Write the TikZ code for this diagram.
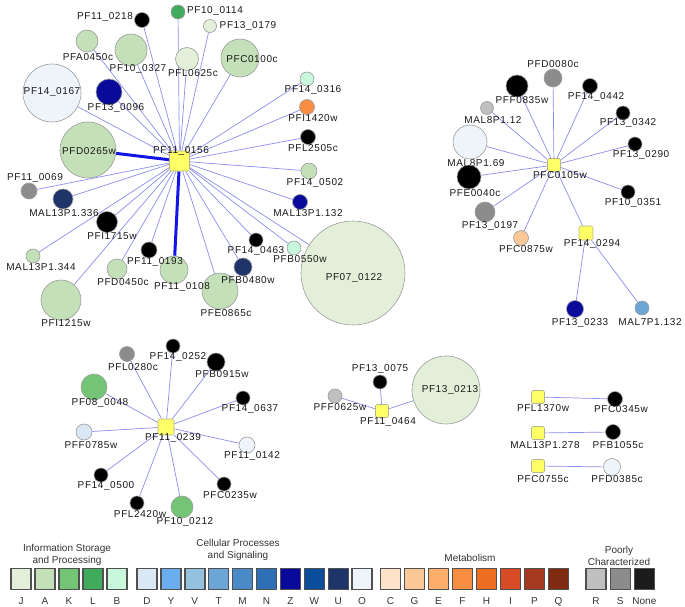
\documentclass[tikz,border=0pt]{standalone}
\usepackage{fontspec}
\setmainfont{Liberation Sans}
\newfontfamily\lblfont{Liberation Sans}[LetterSpace=6]
\usepackage{tikz}
\usetikzlibrary{positioning, backgrounds}
\definecolor{edgeCol}{HTML}{8C8CEE}
\definecolor{strongEdge}{HTML}{1414E6}
\definecolor{geneRim}{HTML}{9C9C9C}
\definecolor{hubFill}{HTML}{FFFF66}
\definecolor{hubRim}{HTML}{B4B48C}
\definecolor{legRim}{HTML}{505050}
\definecolor{cJ}{HTML}{E3EFD9}
\definecolor{cA}{HTML}{C3E0B8}
\definecolor{cK}{HTML}{74C476}
\definecolor{cL}{HTML}{41AB5D}
\definecolor{cB}{HTML}{C9F7DC}
\definecolor{cD}{HTML}{DAE8F5}
\definecolor{cY}{HTML}{6BAEF0}
\definecolor{cV}{HTML}{94C1DE}
\definecolor{cT}{HTML}{6BA6D6}
\definecolor{cM}{HTML}{4A8AC6}
\definecolor{cN}{HTML}{2F6FB6}
\definecolor{cZ}{HTML}{0A0A9A}
\definecolor{cW}{HTML}{0B4F9C}
\definecolor{cU}{HTML}{1F3468}
\definecolor{cO}{HTML}{EFF4FB}
\definecolor{cC}{HTML}{FDE3CA}
\definecolor{cG}{HTML}{FCC898}
\definecolor{cE}{HTML}{FDAE6B}
\definecolor{cF}{HTML}{F98E42}
\definecolor{cH}{HTML}{EE6F22}
\definecolor{cI}{HTML}{D84B27}
\definecolor{cP}{HTML}{A53A21}
\definecolor{cQ}{HTML}{7F2B12}
\definecolor{cR}{HTML}{C0C0C0}
\definecolor{cS}{HTML}{8C8C8C}
\definecolor{cNone}{HTML}{1C1C1C}

\begin{document}
\begin{tikzpicture}[
  x=1pt, y=-1pt,
  gene/.style={circle, draw=geneRim, line width=0.6pt, inner sep=0pt},
  hub/.style={rectangle, rounded corners=1.5pt, draw=hubRim, fill=hubFill,
              line width=0.6pt, inner sep=0pt},
  lbl/.style={font=\lblfont\fontsize{10}{12}\selectfont, text=black!90, inner sep=0pt},
  e/.style={draw=edgeCol, line width=0.7pt},
  strong/.style={draw=strongEdge, line width=3pt},
  legbox/.style={draw=legRim, line width=1.4pt, minimum width=20pt,
                 minimum height=21pt, inner sep=0pt},
  legtxt/.style={font=\fontsize{10}{12}\selectfont, text=black!80,
                 text height=7.2pt, text depth=0pt, inner sep=0pt},
  head/.style={font=\fontsize{10}{12}\selectfont, text=black!80, align=center}
]
\useasboundingbox (0,0) rectangle (685,607);

\foreach \nm/\x/\y/\sz/\col/\txt/\lx/\ly in {
  pf070122/353/273/104/cJ/{PF07\_0122}/354/278,
  pf140167/52/93/58/cO/{PF14\_0167}/52/92,
  pfd0265w/88/150/56/cA/{PFD0265w}/89/151,
  pfi1215w/61/300/40/cA/{PFI1215w}/66/323,
  pfc0100c/240/58/38/cA/{PFC0100c}/252/59,
  pfe0865c/220/291/36/cA/{PFE0865c}/226/313,
  pf100327/131/50/32/cA/{PF10\_0327}/138/69,
  pf110108/174/270/28/cA/{PF11\_0108}/182/287,
  pf130096/109/92/26/cZ/{PF13\_0096}/116/108,
  pfl0625c/187/59/23/cJ/{PFL0625c}/193/73,
  pfa0450c/87/41/22/cA/{PFA0450c}/88/57,
  mal13p1336/63/199/20/cU/{MAL13P1.336}/64/213,
  pfi1715w/107/222/21/black/{PFI1715w}/112/236,
  pfd0450c/117/269/20/cA/{PFD0450c}/123/282,
  pfb0480w/243/267/18/cU/{PFB0480w}/248/280,
  pf110218/142/20/15/black/{PF11\_0218}/105/17,
  pf100114/178/12/14/cL/{PF10\_0114}/215/11,
  pf130179/210/26/13/cJ/{PF13\_0179}/248/26,
  pf110069/29/191/16/cS/{PF11\_0069}/35/178,
  mal13p1344/33/256/14/cA/{MAL13P1.344}/41/267,
  pf110193/149/250/16/black/{PF11\_0193}/155/262,
  pf140463/256/240/14/black/{PF14\_0463}/256/251,
  pfb0550w/294/248/14/cB/{PFB0550w}/300/259,
  mal13p1132/300/202/15/cZ/{MAL13P1.132}/308/213,
  pf140502/309/171/16/cA/{PF14\_0502}/315/183,
  pfl2505c/308/137/15/black/{PFL2505c}/313/148,
  pfi1420w/307/107/15/cF/{PFI1420w}/313/118,
  pf140316/307/79/14/cB/{PF14\_0316}/313/90,
  mal8p169/470/142/34/cO/{MAL8P1.69}/476/163,
  pfe0040c/469/177/24/black/{PFE0040c}/475/193,
  pff0835w/517/86/22/black/{PFF0835w}/522/100,
  pf130197/485/212/20/cS/{PF13\_0197}/490/226,
  pfd0080c/553/78/18/cS/{PFD0080c}/553/64,
  pf140442/590/86/15/black/{PF14\_0442}/596/97,
  mal8p112/487/108/13/cR/{MAL8P1.12}/493/120,
  pf130342/623/113/14/black/{PF13\_0342}/628/123,
  pf130290/635/144/14/black/{PF13\_0290}/641/155,
  pf100351/628/192/14/black/{PF10\_0351}/633/203,
  pfc0875w/521/238/15/cG/{PFC0875w}/526/249,
  pf130233/575/309/17/cZ/{PF13\_0233}/580/323,
  mal7p1132/642/308/14/cT/{MAL7P1.132}/650/322,
  pf080048/94/387/26/cK/{PF08\_0048}/100/403,
  pf100212/182/507/22/cK/{PF10\_0212}/185/522,
  pfb0915w/216/362/18/black/{PFB0915w}/222/374,
  pff0785w/84/432/16/cD/{PFF0785w}/91/445,
  pf110142/247/445/16/cO/{PF11\_0142}/252/456,
  pfl0280c/127/354/15/cS/{PFL0280c}/133/367,
  pf140252/173/346/14/black/{PF14\_0252}/178/357,
  pf140637/243/398/14/black/{PF14\_0637}/250/409,
  pf140500/101/475/14/black/{PF14\_0500}/106/486,
  pfc0235w/224/484/14/black/{PFC0235w}/230/495,
  pfl2420w/137/503/14/black/{PFL2420w}/140/514,
  pf130213/446/390/68/cJ/{PF13\_0213}/450/390,
  pf130075/380/382/14/black/{PF13\_0075}/380/369,
  pff0625w/335/396/14/cR/{PFF0625w}/340/407,
  pfc0345w/615/399/15/black/{PFC0345w}/621/409,
  pfb1055c/613/432/15/black/{PFB1055c}/618/445,
  pfd0385c/612/467/17/cO/{PFD0385c}/617/479}{
  \node[gene, minimum size=\sz, fill=\col] (\nm) at (\x,\y) {};
  \node[lbl] (\nm-t) at (\lx,\ly) {\txt};
}

\foreach \nm/\x/\y/\sz/\txt/\lx/\ly in {
  hubA/179.5/161/20/{PF11\_0156}/181/151,
  hubB/554/165/13/{PFC0105w}/560/175,
  hubC/586/233/14/{PF14\_0294}/592/244,
  hubD/166/427/16/{PF11\_0239}/173/438,
  hubE/382/411/13/{PF11\_0464}/388/422,
  hubF/538/397/13/{PFL1370w}/543/408,
  hubG/538/433/13/{MAL13P1.278}/545/445,
  hubH/538/466/13/{PFC0755c}/543/479}{
  \node[hub, minimum size=\sz] (\nm) at (\x,\y) {};
  \node[lbl] (\nm-t) at (\lx,\ly) {\txt};
}

\begin{scope}[on background layer]
\foreach \g in {pf070122,pf140167,pfi1215w,pfc0100c,pfe0865c,pf100327,pf130096,
  pfl0625c,pfa0450c,mal13p1336,pfi1715w,pfd0450c,pfb0480w,pf110218,pf100114,
  pf130179,pf110069,mal13p1344,pf110193,pf140463,pfb0550w,mal13p1132,pf140502,
  pfl2505c,pfi1420w,pf140316}
  \draw[e] (hubA) -- (\g);
\draw[strong] (hubA) -- (pfd0265w);
\draw[strong] (hubA) -- (pf110108);
\foreach \g in {mal8p169,pfe0040c,pff0835w,pf130197,pfd0080c,pf140442,mal8p112,
  pf130342,pf130290,pf100351,pfc0875w,hubC}
  \draw[e] (hubB) -- (\g);
\draw[e] (hubC) -- (pf130233);
\draw[e] (hubC) -- (mal7p1132);
\foreach \g in {pf080048,pf100212,pfb0915w,pff0785w,pf110142,pfl0280c,pf140252,
  pf140637,pf140500,pfc0235w,pfl2420w}
  \draw[e] (hubD) -- (\g);
\foreach \g in {pf130213,pf130075,pff0625w}
  \draw[e] (hubE) -- (\g);
\draw[e] (hubF) -- (pfc0345w);
\draw[e] (hubG) -- (pfb1055c);
\draw[e] (hubH) -- (pfd0385c);
\end{scope}

\node[head] (infoHead) at (67,554.5) {Information Storage\\and Processing};
\node[head] (cellHead) at (238,550) {Cellular Processes\\and Signaling};
\node[head] (metaHead) at (470,558) {Metabolism};
\node[head] (poorHead) at (619,555.5) {Poorly\\Characterized};

\foreach \c [count=\i from 0] in {J,A,K,L,B} {
  \node[legbox, fill=c\c] (leg\c) at (21+24*\i,579) {};
  \node[legtxt, below=7pt of leg\c] {\c};
}
\foreach \c [count=\i from 0] in {D,Y,V,T,M,N,Z,W,U,O} {
  \node[legbox, fill=c\c] (leg\c) at (147+23.9*\i,579) {};
  \node[legtxt, below=7pt of leg\c] {\c};
}
\foreach \c [count=\i from 0] in {C,G,E,F,H,I,P,Q} {
  \node[legbox, fill=c\c] (leg\c) at (390.5+24*\i,579) {};
  \node[legtxt, below=7pt of leg\c] {\c};
}
\foreach \c [count=\i from 0] in {R,S,None} {
  \node[legbox, fill=c\c] (leg\c) at (596+24.2*\i,579) {};
  \node[legtxt, below=7pt of leg\c] {\c};
}
\end{tikzpicture}
\end{document}
